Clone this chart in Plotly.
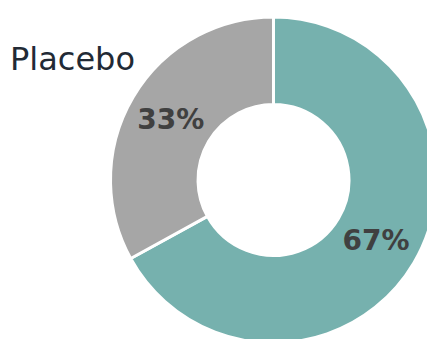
import plotly.graph_objects as go

title_text = "Placebo"
categories = ["Responder", "Non-responder"]
values = [67, 33]
value_labels = ["67%", "33%"]
colors = ["#76b1ae", "#a6a6a6"]

W, H = 440, 346
cx, cy, R = 273.5, 180.0, 163.0

fig = go.Figure(go.Pie(
    labels=categories,
    values=values,
    text=value_labels,
    textinfo="text",
    textposition="inside",
    insidetextorientation="horizontal",
    sort=False,
    direction="clockwise",
    rotation=0,
    hole=0.463,
    marker=dict(colors=colors, line=dict(color="white", width=3)),
    textfont=dict(family="DejaVu Sans", size=28, color="#404040", weight="bold"),
    showlegend=False,
    hoverinfo="skip",
    domain=dict(x=[(cx - R) / W, (cx + R) / W], y=[1 - (cy + R) / H, 1 - (cy - R) / H]),
))

fig.add_annotation(
    text=title_text, x=8 / W, y=1 - 59 / H, xref="paper", yref="paper",
    xanchor="left", yanchor="middle", showarrow=False,
    font=dict(family="DejaVu Sans", size=32, color="#222a35"),
)

fig.update_layout(
    width=W, height=H,
    margin=dict(l=0, r=0, t=0, b=0),
    paper_bgcolor="white", plot_bgcolor="white",
)

fig.write_html(
    "out.html",
    post_script="document.body.style.margin='0';document.body.style.overflow='hidden';document.documentElement.style.overflow='hidden';",
)
